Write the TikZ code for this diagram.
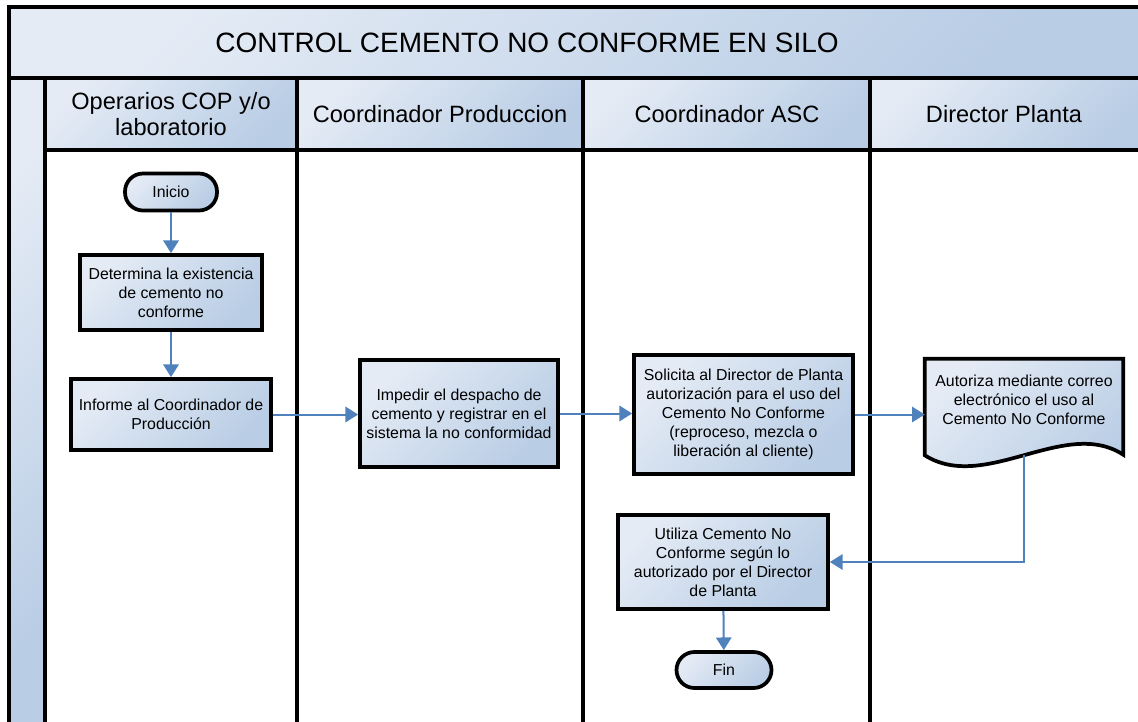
\documentclass[tikz,border=0pt]{standalone}
\usepackage{fontspec}
\setmainfont{Liberation Sans}
\usetikzlibrary{arrows.meta,backgrounds}
\definecolor{bandlite}{HTML}{E4EBF5}
\definecolor{banddark}{HTML}{B9CDE5}
\definecolor{flowblue}{HTML}{4F81BD}
\newcommand\flowfont{\fontsize{11.9}{14.3}\selectfont}
\newcommand\lanefont{\fontsize{17.7}{20}\selectfont}
\newcommand\titlefont{\fontsize{21}{25}\selectfont}

\begin{document}
\begin{tikzpicture}[x=0.75pt,y=-0.75pt,
        band/.style={top color=bandlite,bottom color=banddark,shading angle=45},
        lane/.style={line width=2.8pt},
        proc/.style={draw,line width=2.8pt,band,align=center,inner sep=0pt,font=\flowfont},
        term/.style={proc,rounded corners=13.5pt},
        flow/.style={draw=flowblue,line width=1.5pt,-{Triangle[length=9.5pt,width=11.5pt]}}]
    \useasboundingbox (0,0) rectangle (1138,721);
    \clip (0,0) rectangle (1138,721);
    \fill[band] (9,7) rectangle (1143,78);
    \fill[band] (9,78) rectangle (45,730);
    \foreach \xa/\xb in {45/297,297/583,583/870,870/1143}
        \fill[band] (\xa,78) rectangle (\xb,150);
    \draw[lane] (9,730) -- (9,7) -- (1143,7) -- (1143,730);
    \draw[lane] (9,78) -- (1143,78);
    \draw[lane] (45,150) -- (1143,150);
    \foreach \xa in {45,297,583,870}
        \draw[lane] (\xa,78) -- (\xa,730);
    \node[font=\titlefont] (titulo) at (527,43) {CONTROL CEMENTO NO CONFORME EN SILO};
    \node[font=\lanefont,align=center] (operarios) at (171,114) {Operarios COP y/o\\laboratorio};
    \node[font=\lanefont] (coordprod) at (440,114) {Coordinador Produccion};
    \node[font=\lanefont] (coordasc) at (727,114) {Coordinador ASC};
    \node[font=\lanefont] (director) at (1004,114) {Director Planta};

    \node[term,minimum width=69pt,minimum height=27.75pt] (inicio) at (171,192) {Inicio};
    \node[proc,minimum width=136.5pt,minimum height=56.25pt] (determina) at (171,292.5)
        {Determina la existencia\\de cemento no\\conforme};
    \node[proc,minimum width=150pt,minimum height=53.25pt] (informe) at (171,414.5)
        {Informe al Coordinador de\\Producción};
    \node[proc,minimum width=148.5pt,minimum height=80.25pt] (impedir) at (459,413.5)
        {Impedir el despacho de\\cemento y registrar en el\\sistema la no conformidad};
    \node[proc,minimum width=164.25pt,minimum height=89.25pt] (solicita) at (743.5,414.5)
        {Solicita al Director de Planta\\autorización para el uso del\\Cemento No Conforme\\(reproceso, mezcla o\\liberación al cliente)};
    \node[align=center,font=\flowfont,inner sep=0pt,minimum width=148.5pt,minimum height=61.5pt] (autoriza) at (1024,400)
        {Autoriza mediante correo\\electrónico el uso al\\Cemento No Conforme};
    \begin{scope}[on background layer]
        \draw[line width=2.8pt,band] (autoriza.north west) -- (autoriza.north east)
            -- ++(0,96) .. controls +(-58,-38) and +(60,38) .. ([yshift=-10.5pt]autoriza.south west) -- cycle;
    \end{scope}
    \coordinate (autbot) at ([yshift=-10.5pt]autoriza.south);
    \node[proc,minimum width=157.5pt,minimum height=70.5pt] (utiliza) at (723,562)
        {Utiliza Cemento No\\Conforme según lo\\autorizado por el Director\\de Planta};
    \node[term,minimum width=71.25pt,minimum height=27pt] (fin) at (724,670) {Fin};

    \draw[flow] (inicio) -- (determina);
    \draw[flow] (determina) -- (informe);
    \draw[flow] (informe.east) -- (informe.east -| impedir.west);
    \draw[flow] (impedir.east) -- (impedir.east -| solicita.west);
    \draw[flow] (solicita.east) -- (solicita.east -| autoriza.west);
    \draw[flow] (autbot) |- (utiliza);
    \draw[flow] (utiliza) -- (fin);
\end{tikzpicture}
\end{document}
